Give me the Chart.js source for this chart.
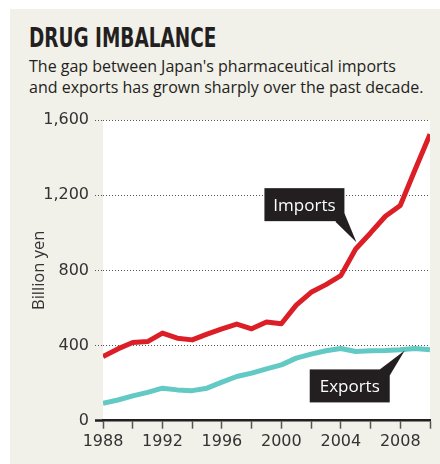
<!DOCTYPE html>
<html>
<head>
<meta charset="utf-8">
<script src="https://cdn.jsdelivr.net/npm/chart.js@4.4.0/dist/chart.umd.min.js"></script>
<style>
    html, body { margin: 0; padding: 0; background: #fff; }
    #wrap { position: relative; width: 440px; height: 464px; overflow: hidden; }
    #panel { position: absolute; left: 10px; top: 9px; right: 0; bottom: 0; background: #f1f0e9; }
    #title {
        position: absolute; left: 29px; top: 24px; margin: 0;
        font: bold 27px "Liberation Sans Narrow", "DejaVu Sans Condensed", sans-serif;
        color: #231f20; line-height: 1; white-space: nowrap;
        transform: scaleX(0.76); transform-origin: left top;
    }
    #sub {
        position: absolute; left: 29px; top: 56px; margin: 0;
        font: 16px "Open Sans", sans-serif; color: #231f20; line-height: 21px; white-space: nowrap;
    }
    canvas { position: absolute; left: 0; top: 0; }
</style>
</head>
<body>
<div id="wrap">
    <div id="panel"></div>
    <h1 id="title">DRUG IMBALANCE</h1>
    <p id="sub">The gap between Japan's pharmaceutical imports<br>and exports has grown sharply over the past decade.</p>
    <canvas id="chart" width="440" height="464"></canvas>
</div>
<script>
    // Годы и значения (млрд иен)
    const years = [1988, 1989, 1990, 1991, 1992, 1993, 1994, 1995, 1996, 1997, 1998, 1999,
        2000, 2001, 2002, 2003, 2004, 2005, 2006, 2007, 2008, 2009, 2010];
    const imports = [341, 382, 416, 421, 466, 439, 430, 461, 489, 514, 489, 525,
        516, 615, 683, 724, 772, 914, 999, 1088, 1145, 1337, 1524];
    const exports = [93, 110, 132, 151, 173, 164, 160, 173, 205, 235, 253, 276,
        297, 333, 354, 372, 384, 368, 372, 373, 377, 384, 377];
    const yTicks = [0, 400, 800, 1200, 1600];

    const toPoints = values => years.map((year, i) => ({ x: year, y: values[i] }));

    // Белый фон области графика
    const plotBackground = {
        id: 'plotBackground',
        beforeDraw(chart) {
            const { ctx, chartArea } = chart;
            ctx.save();
            ctx.fillStyle = '#ffffff';
            ctx.fillRect(chartArea.left, chartArea.top, chartArea.right - chartArea.left, chartArea.bottom - chartArea.top);
            ctx.restore();
        }
    };

    // Подписи-выноски "Imports" и "Exports"
    const callouts = {
        id: 'callouts',
        afterDatasetsDraw(chart) {
            const { ctx, scales } = chart;
            const items = [
                { text: 'Imports', tip: { x: 2005.05, y: 950 }, box: [-92, -54, 80, 33], base: [[-21, -20.5], [-12, -29]] },
                { text: 'Exports', tip: { x: 2008.3, y: 374 }, box: [-95, 19, 80, 33], base: [[-25, 19], [-15, 25]] }
            ];
            ctx.save();
            items.forEach(item => {
                const tx = scales.x.getPixelForValue(item.tip.x);
                const ty = scales.y.getPixelForValue(item.tip.y);
                const [bx, by, bw, bh] = item.box;
                ctx.fillStyle = '#231f20';
                ctx.fillRect(tx + bx, ty + by, bw, bh);
                ctx.beginPath();
                ctx.moveTo(tx, ty);
                ctx.lineTo(tx + item.base[0][0], ty + item.base[0][1]);
                ctx.lineTo(tx + item.base[1][0], ty + item.base[1][1]);
                ctx.closePath();
                ctx.fill();
                ctx.fillStyle = '#ffffff';
                ctx.font = '17px "Open Sans", sans-serif';
                ctx.textAlign = 'center';
                ctx.textBaseline = 'middle';
                ctx.fillText(item.text, tx + bx + bw / 2, ty + by + bh / 2 + 1);
            });
            ctx.restore();
        }
    };

    const tickFont = { family: '"DejaVu Sans", sans-serif', size: 16 };

    new Chart(document.getElementById('chart').getContext('2d'), {
        type: 'line',
        data: {
            datasets: [
                {
                    label: 'Imports',
                    data: toPoints(imports),
                    borderColor: '#dc1f26',
                    borderWidth: 5,
                    pointRadius: 0,
                    tension: 0,
                    borderJoinStyle: 'round'
                },
                {
                    label: 'Exports',
                    data: toPoints(exports),
                    borderColor: '#63c9c4',
                    borderWidth: 5,
                    pointRadius: 0,
                    tension: 0,
                    borderJoinStyle: 'round'
                }
            ]
        },
        options: {
            responsive: false,
            animation: false,
            layout: { padding: { left: 0, right: 10, top: 120, bottom: 8 } },
            plugins: {
                legend: { display: false },
                tooltip: { enabled: false },
                title: { display: false }
            },
            scales: {
                x: {
                    type: 'linear',
                    min: years[0],
                    max: years[years.length - 1],
                    afterFit: scale => { scale.height = 35.3; },
                    ticks: {
                        stepSize: 2,
                        color: '#333',
                        font: tickFont,
                        padding: 4,
                        maxRotation: 0,
                        autoSkip: false,
                        callback: value => (value % 4 === 0 ? String(value) : '')
                    },
                    grid: {
                        drawOnChartArea: false,
                        tickLength: 8,
                        tickColor: '#555',
                        tickWidth: 1.5
                    },
                    border: { display: true, color: '#231f20', width: 2.5 }
                },
                y: {
                    min: 0,
                    max: 1600,
                    afterFit: scale => { scale.width = 103; },
                    afterBuildTicks: scale => { scale.ticks = yTicks.map(v => ({ value: v })); },
                    ticks: {
                        color: '#333',
                        font: tickFont,
                        padding: 6,
                        callback: value => value.toLocaleString('en-US')
                    },
                    grid: {
                        color: ctx => (ctx.tick && ctx.tick.value === 0 ? 'rgba(0,0,0,0)' : '#555'),
                        lineWidth: 1,
                        tickLength: 8,
                        tickColor: ctx => (ctx.tick && ctx.tick.value === 0 ? '#231f20' : '#555'),
                        tickWidth: ctx => (ctx.tick && ctx.tick.value === 0 ? 2.5 : 1),
                        tickBorderDash: ctx => (ctx.tick && ctx.tick.value === 0 ? [] : [1, 2])
                    },
                    border: { display: false, dash: [1, 2] },
                    title: {
                        display: true,
                        text: 'Billion yen',
                        color: '#333',
                        font: { family: '"Open Sans", sans-serif', size: 16.5 },
                        padding: { top: 29, bottom: 0 }
                    }
                }
            }
        },
        plugins: [plotBackground, callouts]
    });
</script>
</body>
</html>
